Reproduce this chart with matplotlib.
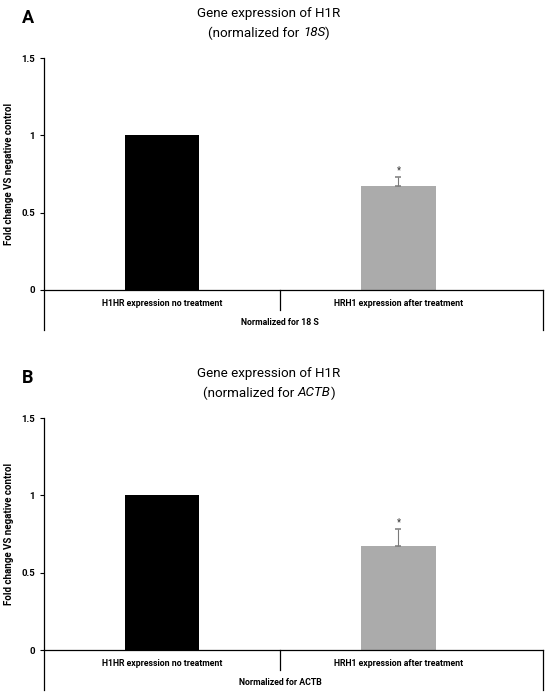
import matplotlib
matplotlib.use("Agg")
import matplotlib.pyplot as plt
from matplotlib.lines import Line2D

plt.rcParams['font.family'] = ['Roboto', 'DejaVu Sans']

# data
categories = ['H1HR expression no treatment', 'HRH1 expression after treatment']
panels = ['A', 'B']
references = ['18S', 'ACTB']
group_labels = ['Normalized for 18 S', 'Normalized for ACTB']
fold_change = [[1.0, 0.672], [1.0, 0.672]]
errors = [[0.0, 0.056], [0.0, 0.110]]
stars = ['', '*']
yticks = [0, 0.5, 1, 1.5]
ytick_labels = ['0', '0.5', '1', '1.5']
bar_colors = ['#000000', '#ababab']

W, H = 550, 697
fig = plt.figure(figsize=(W / 100, H / 100), dpi=100)
renderer = fig.canvas.get_renderer()


def mixed_title(xc, yc, parts, size):
    # parts: list of (text, style); drawn side by side, centred on xc
    texts = []
    for s, st in parts:
        t = fig.text(0, yc, s, fontsize=size, style=st, ha='left', va='center')
        texts.append(t)
    widths = [t.get_window_extent(renderer).width / W for t in texts]
    x = xc - sum(widths) / 2
    for t, w in zip(texts, widths):
        t.set_x(x)
        x += w


# axes box in pixels
ax_left, ax_right = 43.5, 543
tops = [58, 418]
ax_h = 232
box_drop = 40  # category box below the axis, px

for i in range(2):
    top = tops[i]
    ax = fig.add_axes([ax_left / W, 1 - (top + ax_h) / H,
                       (ax_right - ax_left) / W, ax_h / H])
    x = [0, 1]
    ax.bar(x, fold_change[i], width=0.313, color=bar_colors, zorder=2)
    # upper error bar only
    ax.errorbar(x[1], fold_change[i][1], yerr=[[0], [errors[i][1]]],
                fmt='none', ecolor='#7a7a7a', elinewidth=0.8,
                capsize=2.5, capthick=1.1, zorder=3)
    star_y = fold_change[i][1] + errors[i][1] + 0.012
    ax.text(x[1], star_y, stars[1], ha='center', va='bottom',
            fontsize=7, color='#333333')

    ax.set_xlim(-0.501, 1.611)
    ax.set_ylim(0, 1.5)
    ax.set_yticks(yticks)
    ax.set_yticklabels(ytick_labels, fontsize=6.8, fontweight='bold')
    ax.set_xticks([])
    ax.tick_params(axis='y', direction='out', length=3, width=0.8, pad=3)
    for s in ['top', 'right', 'left']:
        ax.spines[s].set_visible(False)
    ax.spines['bottom'].set_linewidth(0.9)

    drop = -box_drop / ax_h
    # left axis line running down past the category box
    ax.add_line(Line2D([0, 0], [1, drop], transform=ax.transAxes,
                       color='black', lw=0.9, clip_on=False))
    # right side of the category box
    ax.add_line(Line2D([1, 1], [0, drop], transform=ax.transAxes,
                       color='black', lw=0.9, clip_on=False))
    # divider between the categories
    ax.plot([0.5, 0.5], [0, -20 / ax_h * 1.5], color='black', lw=0.9,
            clip_on=False)

    for xi, lab in zip(x, categories):
        ax.text(xi, -13.5 / ax_h * 1.5, lab, ha='center', va='center',
                fontsize=6.3, fontweight='bold')
    ax.text(0.5, -32.5 / ax_h * 1.5, group_labels[i], ha='center',
            va='center', fontsize=6.3, fontweight='bold')

    ax.set_ylabel('Fold change VS negative control', fontsize=7.0,
                  fontweight='bold')
    ax.yaxis.set_label_coords(-29.5 / (ax_right - ax_left), 0.5)

    fig.text(269 / W, 1 - (top - 44) / H, 'Gene expression of H1R',
             ha='center', va='center', fontsize=9.6)
    mixed_title(269 / W, 1 - (top - 25) / H,
                [('(normalized for ', 'normal'), (references[i], 'italic'),
                 (')', 'normal')], 9.6)
    fig.text(28 / W, 1 - (top - 40) / H, panels[i], ha='center',
             va='center', fontsize=13, fontweight='bold')

fig.savefig('out.png', dpi=100)
